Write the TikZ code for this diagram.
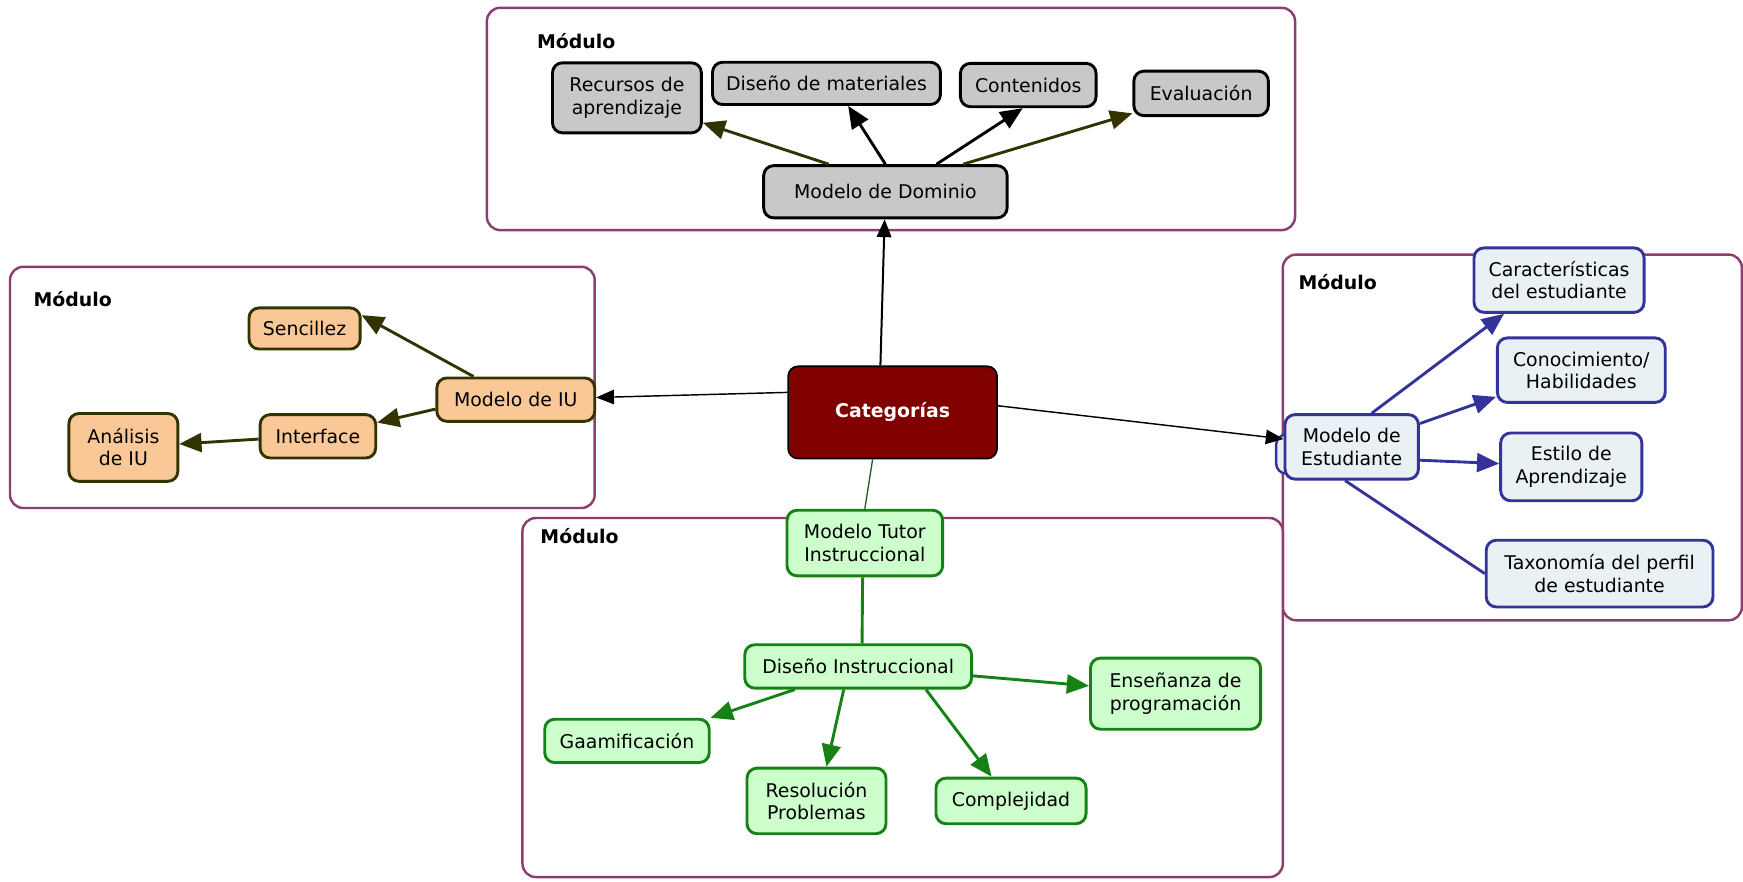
\documentclass[tikz,border=0pt]{standalone}
\usepackage{fontspec}
\setmainfont{DejaVu Sans}
\usepackage{tikz}
\usetikzlibrary{arrows.meta}
\usepackage{xcolor}

\definecolor{modborder}{RGB}{140,62,110}
\definecolor{domfill}{RGB}{200,200,200}
\definecolor{catfill}{RGB}{128,0,0}
\definecolor{iufill}{RGB}{250,200,150}
\definecolor{iuborder}{RGB}{51,51,0}
\definecolor{estfill}{RGB}{234,241,245}
\definecolor{estborder}{RGB}{51,51,153}
\definecolor{tutfill}{RGB}{204,255,204}
\definecolor{tutborder}{RGB}{20,130,20}
\definecolor{tutlink}{RGB}{40,90,40}

\begin{document}
\begin{tikzpicture}[
    x = 1pt, y = -1pt,
    > = {Triangle[length=20pt,width=17pt]},
    concept/.style = {draw, rounded corners=9pt, line width=2.6pt, align=center,
        inner sep=2pt, font=\fontsize{17}{20}\selectfont},
    domnode/.style = {concept, fill=domfill, draw=black},
    catnode/.style = {concept, fill=catfill, draw=black, text=white, line width=1.5pt,
        font=\fontsize{17}{20}\selectfont\bfseries},
    iunode/.style = {concept, fill=iufill, draw=iuborder},
    estnode/.style = {concept, fill=estfill, draw=estborder},
    tutnode/.style = {concept, fill=tutfill, draw=tutborder},
    module/.style = {draw=modborder, line width=2.2pt, rounded corners=12pt, fill=white},
    modlabel/.style = {anchor=west, inner sep=0pt, font=\fontsize{17}{20}\selectfont\bfseries},
    link/.style = {line width=2.6pt},
    thinlink/.style = {line width=1.3pt, -{Triangle[length=16pt,width=13pt]}}
]
\useasboundingbox (0,0) rectangle (1568,793);

% Modules
\draw[module] (438,7) rectangle (1165,207);
\draw[module] (9,240) rectangle (535,457);
\draw[module] (1154,229) rectangle (1567,558);
\draw[module] (470,466) rectangle (1154,789);
\node[modlabel] (modtop) at (483,37) {Módulo};
\node[modlabel] (modleft) at (30,269) {Módulo};
\node[modlabel] (modright) at (1168,254) {Módulo};
\node[modlabel] (modbottom) at (486,482) {Módulo};

% Concepts
\node[catnode, minimum width=188pt, minimum height=83pt] (categorias) at (803,371) {Categorías};

\node[domnode, minimum width=219pt, minimum height=47pt] (dominio) at (796.5,172.5) {Modelo de Dominio};
\node[domnode, minimum width=134pt, minimum height=63pt] (recursos) at (564,88) {Recursos de\\aprendizaje};
\node[domnode, minimum width=205pt, minimum height=38pt] (disenomat) at (743.5,75) {Diseño de materiales};
\node[domnode, minimum width=122pt, minimum height=39pt] (contenidos) at (925,76.5) {Contenidos};
\node[domnode, minimum width=121pt, minimum height=40pt] (evaluacion) at (1080.5,84) {Evaluación};

\node[iunode, minimum width=142pt, minimum height=39pt] (modeloiu) at (464,359.5) {Modelo de IU};
\node[iunode, minimum width=100pt, minimum height=37pt] (sencillez) at (274,295.5) {Sencillez};
\node[iunode, minimum width=104pt, minimum height=39pt] (interface) at (286,392.5) {Interface};
\node[iunode, minimum width=98pt, minimum height=61pt] (analisis) at (111,402.5) {Análisis\\de IU};

\draw[estborder, fill=estfill, line width=2.2pt, rounded corners=9pt] (1148,391) rectangle (1200,426);
\node[estnode, minimum width=120pt, minimum height=58pt] (estudiante) at (1216,402) {Modelo de\\Estudiante};
\node[estnode, minimum width=153pt, minimum height=58pt] (caracteristicas) at (1402.5,252) {Características\\del estudiante};
\node[estnode, minimum width=151pt, minimum height=58pt] (conocimiento) at (1422.5,333) {Conocimiento/\\Habilidades};
\node[estnode, minimum width=127pt, minimum height=61pt] (estilo) at (1413.5,420) {Estilo de\\Aprendizaje};
\node[estnode, minimum width=204pt, minimum height=60pt] (taxonomia) at (1439,516) {Taxonomía del perfil\\de estudiante};

\node[tutnode, minimum width=140pt, minimum height=59pt] (tutor) at (778,488.5) {Modelo Tutor\\Instruccional};
\node[tutnode, minimum width=204pt, minimum height=39pt] (disenoins) at (772,599.5) {Diseño Instruccional};
\node[tutnode, minimum width=153pt, minimum height=64pt] (ensenanza) at (1057.5,624) {Enseñanza de\\programación};
\node[tutnode, minimum width=148pt, minimum height=39pt] (gaamificacion) at (564,666.5) {Gaamificación};
\node[tutnode, minimum width=125pt, minimum height=59pt] (resolucion) at (734.5,720.5) {Resolución\\Problemas};
\node[tutnode, minimum width=135pt, minimum height=41pt] (complejidad) at (909.5,720.5) {Complejidad};

% Links from Categorias
\path[thinlink, black]
    ([xshift=-11pt]categorias.north) edge[line width=1.8pt] (dominio)
    ([yshift=18pt]categorias.west) edge (modeloiu)
    ([yshift=6pt]categorias.east) edge (estudiante);
\draw[tutlink, line width=1.2pt] ([xshift=-18pt]categorias.south) -- (tutor.north);

% Links of Modelo de Dominio
\path[->, link, iuborder]
    ([xshift=-51pt]dominio.north) edge (recursos)
    ([xshift=70pt]dominio.north) edge ([yshift=-18pt]evaluacion.west);
\path[->, link, black]
    (dominio.north) edge ([xshift=19.5pt]disenomat.south)
    ([xshift=46pt]dominio.north) edge ([xshift=-5pt]contenidos.south);

% Links of Modelo de IU
\path[->, link, iuborder]
    ([xshift=-38pt]modeloiu.north) edge ([yshift=12pt]sencillez.east)
    ([yshift=-8.5pt]modeloiu.west) edge (interface)
    ([yshift=-2.5pt]interface.west) edge (analisis);

% Links of Modelo de Estudiante
\path[->, link, estborder]
    ([xshift=18pt]estudiante.north) edge ([xshift=-49.5pt]caracteristicas.south)
    ([yshift=21pt]estudiante.east) edge ([yshift=-24pt]conocimiento.west)
    ([yshift=-12pt]estudiante.east) edge ([yshift=3pt]estilo.west);
\draw[link, estborder] ([xshift=-6pt]estudiante.south) -- (taxonomia.west);

% Links of Modelo Tutor
\draw[link, tutborder] ([xshift=-2pt]tutor.south) -- ([xshift=3.5pt]disenoins.north);
\path[->, link, tutborder]
    ([xshift=-57pt]disenoins.south) edge (gaamificacion.north east)
    ([xshift=-13pt]disenoins.south) edge ([xshift=9pt]resolucion.north)
    ([xshift=61pt]disenoins.south) edge ([xshift=-17.5pt]complejidad.north)
    ([yshift=-8.5pt]disenoins.east) edge ([yshift=7pt]ensenanza.west);

\end{tikzpicture}
\end{document}
